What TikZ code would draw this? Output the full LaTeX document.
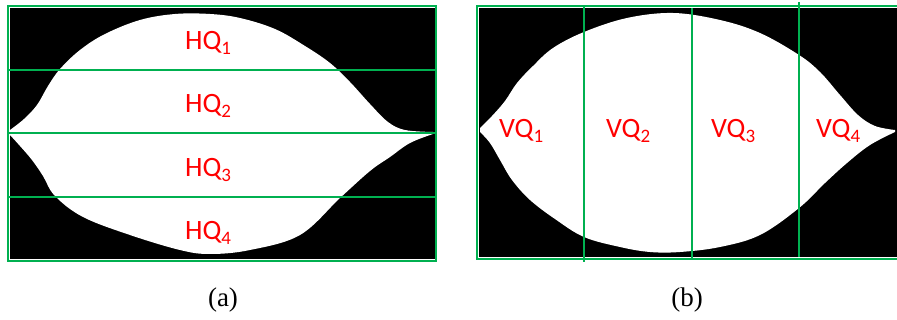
\documentclass[tikz,border=0pt]{standalone}
\usepackage{fontspec}
\setmainfont{Liberation Serif}
\newfontfamily\labfont{Carlito}
\definecolor{qgreen}{RGB}{0,176,80}
\definecolor{qred}{RGB}{255,0,0}
\begin{document}
\begin{tikzpicture}[x=1pt,y=-1pt,
  gline/.style={draw=qgreen,line width=2.6pt},
  qlab/.style={text=qred,inner sep=0pt,anchor=base west,font=\labfont\fontsize{28}{30}\selectfont},
  captext/.style={inner sep=0pt,anchor=base,font=\fontsize{27}{29}\selectfont},
  leaf/.style={fill=white,draw=none}]
\newcommand{\qsub}[1]{\raisebox{-5pt}{\fontsize{19}{19}\selectfont #1}}
\useasboundingbox[fill=white] (0,0) rectangle (897,320);
% ---------- panel (a) ----------
\fill[black] (10,8) rectangle (435,259);
\fill[leaf] plot[smooth,tension=0.6] coordinates {(10,130) (24,119) (37,105) (48,86) (60,69) (80,50) (105,34) (140,20) (175,14) (210,14) (240,18) (275,29) (305,46) (330,63) (350,82) (370,104) (388,122) (405,130) (433,132)}
  -- plot[smooth,tension=0.6] coordinates {(433,134) (410,143) (390,157) (370,171) (340,198) (300,235) (250,250) (210,254) (180,250) (130,235) (83,217) (55,196) (43,176) (32,160) (20,146) (10,135)} -- cycle;
\draw[gline] (8,70) -- (436,70);
\draw[gline] (8,133) -- (436,133);
\draw[gline] (8,197) -- (436,197);
\draw[gline] (8,6) rectangle (436,261);
\node[qlab] (hq1) at (185,50) {HQ\qsub{1}};
\node[qlab] (hq2) at (185,113) {HQ\qsub{2}};
\node[qlab] (hq3) at (185,177) {HQ\qsub{3}};
\node[qlab] (hq4) at (185,240) {HQ\qsub{4}};
\node[captext] (capa) at (223,307) {(a)};
% ---------- panel (b) ----------
\fill[black] (479,8) rectangle (897,257);
\fill[leaf] plot[smooth,tension=0.6] coordinates {(480,128) (492,116) (505,101) (517,83) (533,66) (553,48) (584,32) (627,18) (673,13) (720,20) (760,33) (799,55) (820,72) (840,95) (858,115) (875,126) (895,130)}
  -- plot[smooth,tension=0.6] coordinates {(895,132) (870,145) (847,163) (825,183) (799,208) (760,235) (720,247) (680,252) (650,252) (620,247) (584,237) (555,219) (530,200) (512,180) (500,160) (490,143) (480,132)} -- cycle;
\draw[gline] (584,6) -- (584,262);
\draw[gline] (692,8) -- (692,259);
\draw[gline] (799,2) -- (799,257);
\draw[gline] (900,6) -- (477,6) -- (477,259) -- (900,259);
\node[qlab] (vq1) at (499,138) {VQ\qsub{1}};
\node[qlab] (vq2) at (606,138) {VQ\qsub{2}};
\node[qlab] (vq3) at (711,138) {VQ\qsub{3}};
\node[qlab] (vq4) at (816,138) {VQ\qsub{4}};
\node[captext] (capb) at (687,307) {(b)};
\end{tikzpicture}
\end{document}
